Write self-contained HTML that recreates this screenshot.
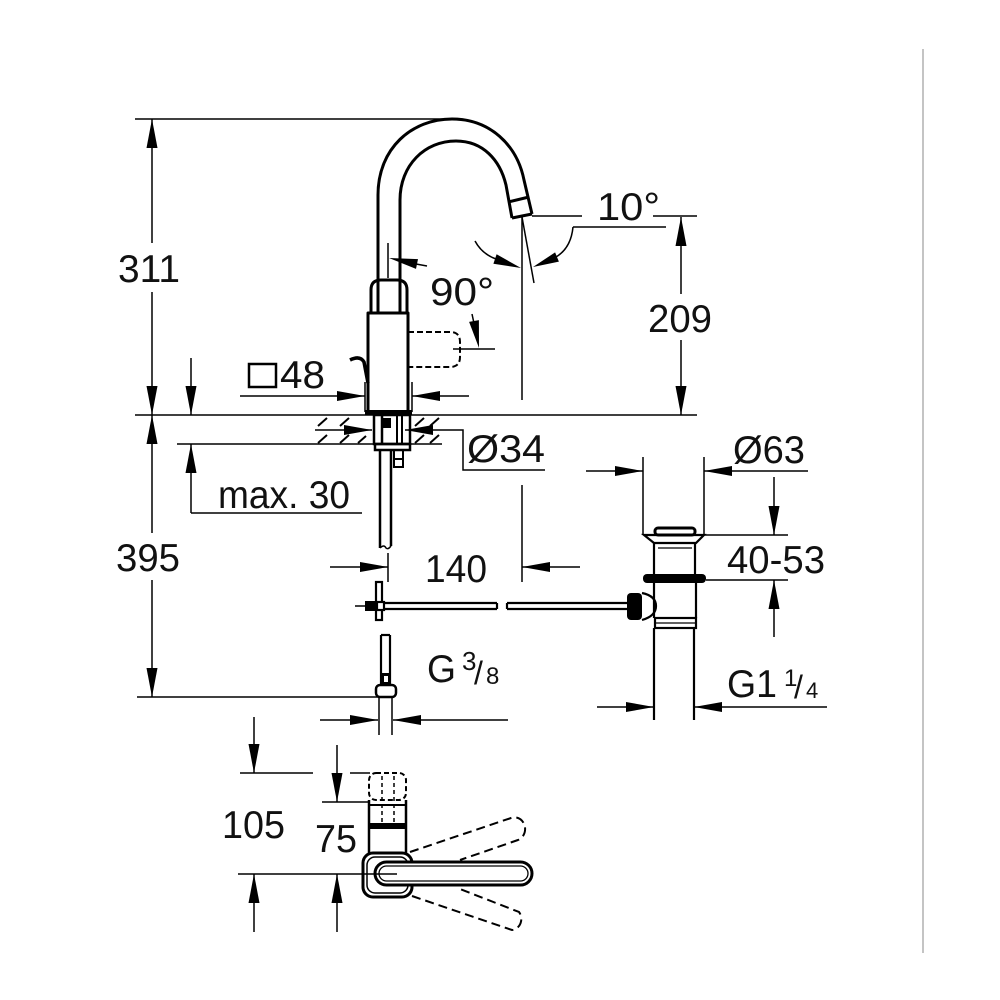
<!DOCTYPE html>
<html><head><meta charset="utf-8"><style>
html,body{margin:0;padding:0;background:#fff;}
svg{display:block;}
text{font-family:"Liberation Sans",Arial,sans-serif;fill:#111;}
</style></head><body>
<svg width="1000" height="1000" viewBox="0 0 1000 1000" xmlns="http://www.w3.org/2000/svg">
<rect width="1000" height="1000" fill="#fff"/>
<line x1="923" y1="49" x2="923" y2="953" stroke="#c4c4c4" stroke-width="2"/>

<g stroke="#000" stroke-width="1.5" fill="none">
  <!-- main horizontal reference lines -->
  <line x1="135" y1="119" x2="453" y2="119"/>
  <line x1="135" y1="415" x2="697" y2="415"/>
  <line x1="177" y1="444" x2="442" y2="444"/>
  <line x1="137" y1="697" x2="380" y2="697"/>
  <!-- 311 / 395 -->
  <line x1="152" y1="119" x2="152" y2="243"/>
  <line x1="152" y1="292" x2="152" y2="415"/>
  <line x1="152" y1="415" x2="152" y2="533"/>
  <line x1="152" y1="580" x2="152" y2="697"/>
  <!-- max 30 -->
  <line x1="191" y1="358" x2="191" y2="415"/>
  <line x1="191" y1="444" x2="191" y2="513"/>
  <line x1="191" y1="513" x2="362" y2="513"/>
  <!-- 48 -->
  <line x1="240" y1="396" x2="365" y2="396"/>
  <line x1="412" y1="396" x2="469" y2="396"/>
  <line x1="365" y1="382" x2="365" y2="412"/>
  <line x1="412" y1="382" x2="412" y2="412"/>
  <!-- Ø34 -->
  <line x1="315" y1="430" x2="372" y2="430"/>
  <polyline points="405,430 463,430 463,470 545,470"/>
  <!-- angle 10 / 209 -->
  <line x1="522" y1="215" x2="522" y2="400"/>
  <line x1="522" y1="217" x2="534" y2="283"/>
  <line x1="532" y1="216" x2="582" y2="216"/>
  <line x1="653" y1="216" x2="697" y2="216"/>
  <line x1="573" y1="227" x2="666" y2="227"/>
  <path d="M573,227 Q571,248 556,257"/>
  <path d="M475,241 Q482,254 496,259"/>
  <line x1="681" y1="217" x2="681" y2="294"/>
  <line x1="681" y1="340" x2="681" y2="415"/>
  <!-- 90 -->
  <line x1="388" y1="243" x2="388" y2="278"/>
  <line x1="416" y1="264" x2="427" y2="266"/>
  <line x1="472" y1="314" x2="475" y2="328"/>
  <line x1="453" y1="349" x2="495" y2="349"/>
  <!-- 140 -->
  <line x1="330" y1="567" x2="388" y2="567"/>
  <line x1="388" y1="553" x2="388" y2="582"/>
  <line x1="522" y1="485" x2="522" y2="582"/>
  <line x1="522" y1="567" x2="580" y2="567"/>
  <!-- G3/8 -->
  <line x1="320" y1="720" x2="378" y2="720"/>
  <line x1="393" y1="720" x2="508" y2="720"/>
  <!-- Ø63 -->
  <line x1="643" y1="457" x2="643" y2="535"/>
  <line x1="704" y1="457" x2="704" y2="535"/>
  <line x1="586" y1="471" x2="643" y2="471"/>
  <line x1="704" y1="471" x2="808" y2="471"/>
  <!-- 40-53 -->
  <line x1="704" y1="535" x2="788" y2="535"/>
  <line x1="706" y1="580" x2="788" y2="580"/>
  <line x1="774" y1="477" x2="774" y2="535"/>
  <line x1="774" y1="580" x2="774" y2="637"/>
  <!-- G1 1/4 -->
  <line x1="597" y1="707" x2="654" y2="707"/>
  <line x1="694" y1="707" x2="827" y2="707"/>
  <!-- bottom view dims -->
  <line x1="254" y1="717" x2="254" y2="773"/>
  <line x1="240" y1="773" x2="313" y2="773"/>
  <line x1="350" y1="773" x2="370" y2="773"/>
  <line x1="337" y1="745" x2="337" y2="802"/>
  <line x1="322" y1="802" x2="368" y2="802"/>
  <line x1="254" y1="874" x2="254" y2="932"/>
  <line x1="337" y1="874" x2="337" y2="932"/>
</g>

<!-- arrowheads -->
<g fill="#000" stroke="none">
  <polygon points="152,119 146.5,148 157.5,148"/>
  <polygon points="152,415 146.5,386 157.5,386"/>
  <polygon points="152,415 146.5,444 157.5,444"/>
  <polygon points="152,697 146.5,668 157.5,668"/>
  <polygon points="191,415 185.5,386 196.5,386"/>
  <polygon points="191,444 185.5,473 196.5,473"/>
  <polygon points="365,396 337,391 337,401"/>
  <polygon points="412,396 440,391 440,401"/>
  <polygon points="372,430 344,425 344,435"/>
  <polygon points="405,430 433,425 433,435"/>
  <polygon points="521,268 493.4,263.7 496.6,254.3"/>
  <polygon points="533,267 558.9,261.6 555.1,252.4"/>
  <polygon points="681,217 675.5,246 686.5,246"/>
  <polygon points="681,415 675.5,386 686.5,386"/>
  <polygon points="389,258 416,268.9 418,259.1"/>
  <polygon points="479,348 478.9,320.1 469.1,321.9"/>
  <polygon points="388,567 360,562 360,572"/>
  <polygon points="522,567 550,562 550,572"/>
  <polygon points="378,720 350,715 350,725"/>
  <polygon points="393,720 421,715 421,725"/>
  <polygon points="643,471 615,466 615,476"/>
  <polygon points="704,471 732,466 732,476"/>
  <polygon points="774,535 768.5,506 779.5,506"/>
  <polygon points="774,580 768.5,609 779.5,609"/>
  <polygon points="654,707 626,702 626,712"/>
  <polygon points="694,707 722,702 722,712"/>
  <polygon points="254,773 248.5,744 259.5,744"/>
  <polygon points="337,802 331.5,773 342.5,773"/>
  <polygon points="254,874 248.5,903 259.5,903"/>
  <polygon points="337,874 331.5,903 342.5,903"/>
</g>

<!-- faucet body -->
<g stroke="#000" stroke-width="3" fill="none" stroke-linejoin="round">
  <path d="M378,313 L378,195 C378,148 412,119 452,119 C490,119 517,145 524,180 L532,214"/>
  <path d="M400,313 L400,200 C400,165 425,141 456,141 C483,141 500,160 506,185 L512,218"/>
  <line x1="512" y1="218" x2="532" y2="214"/>
  <line x1="508" y1="202" x2="529" y2="197"/>
  <path d="M371,313 L371,290 Q371,280 381,280 L397,280 Q407,280 407,290 L407,313"/>
  <rect x="368" y="313" width="40" height="99"/>
  <path d="M350,360 Q360,355 364,362 L368,383" stroke-width="3.5"/>
</g>
<rect x="365" y="410" width="47" height="5" fill="#000"/>
<!-- dashed lever side -->
<path d="M408,332 L450,332 Q460,332 460,342 L460,357 Q460,367 450,367 L408,367" fill="none" stroke="#000" stroke-width="2" stroke-dasharray="6,3"/>

<!-- under deck -->
<g stroke="#000" stroke-width="2" fill="none">
  <line x1="318" y1="426" x2="327" y2="418"/>
  <line x1="340" y1="426" x2="349" y2="418"/>
  <line x1="318" y1="443" x2="327" y2="435"/>
  <line x1="340" y1="443" x2="349" y2="435"/>
  <line x1="358" y1="443" x2="366" y2="436"/>
  <line x1="415" y1="426" x2="424" y2="418"/>
  <line x1="430" y1="426" x2="439" y2="418"/>
  <line x1="415" y1="443" x2="424" y2="435"/>
  <line x1="430" y1="443" x2="439" y2="435"/>
  <rect x="374" y="415" width="36" height="29" stroke-width="2.5"/>
  <line x1="382" y1="415" x2="382" y2="444" stroke-width="2.5"/>
  <line x1="397" y1="415" x2="397" y2="444"/>
  <line x1="402" y1="415" x2="402" y2="444"/>
  <rect x="375" y="444" width="35" height="6" stroke-width="2.5"/>
  <line x1="380" y1="450" x2="380" y2="548" stroke-width="2.5"/>
  <line x1="391" y1="450" x2="391" y2="546" stroke-width="2.5"/>
  <path d="M380,548 Q384,544 386,548 Q388,550 391,546" stroke-width="1.5"/>
  <rect x="394" y="450" width="9" height="17" stroke-width="2"/>
  <line x1="394" y1="459" x2="403" y2="459"/>
</g>
<rect x="383" y="418" width="8" height="10" fill="#000"/>

<!-- cross assembly & connection pipe -->
<g stroke="#000" stroke-width="2.2" fill="none">
  <rect x="376" y="582" width="6" height="38"/>
  <line x1="382" y1="603" x2="497" y2="603"/>
  <line x1="382" y1="609" x2="497" y2="609"/>
  <line x1="497" y1="603" x2="497" y2="609"/>
  <line x1="507" y1="603" x2="628" y2="603"/>
  <line x1="507" y1="609" x2="628" y2="609"/>
  <line x1="507" y1="603" x2="507" y2="609"/>
  <line x1="355" y1="606" x2="367" y2="606" stroke-width="1.5"/>
  <rect x="377" y="602" width="7" height="8" fill="#fff"/>
  <!-- lower pipe -->
  <line x1="381" y1="635" x2="381" y2="685"/>
  <line x1="390" y1="635" x2="390" y2="685"/>
  <line x1="381" y1="635" x2="390" y2="635"/>
  <rect x="376" y="685" width="20" height="12" rx="4" stroke-width="2.5"/>
  <line x1="379" y1="697" x2="379" y2="735" stroke-width="1.5"/>
  <line x1="392" y1="697" x2="392" y2="735" stroke-width="1.5"/>
</g>
<rect x="365" y="601" width="11" height="10" fill="#000"/>
<rect x="382" y="673" width="8" height="12" fill="#000"/>
<rect x="384" y="676" width="4" height="6" fill="#fff"/>

<!-- drain -->
<g stroke="#000" stroke-width="2.2" fill="none">
  <rect x="655" y="528" width="40" height="7" rx="3" stroke-width="3"/>
  <path d="M644,535 L704,535 L696,543 L654,543 Z"/>
  <line x1="654" y1="543" x2="654" y2="576"/>
  <line x1="695" y1="543" x2="695" y2="576"/>
  <line x1="658" y1="548" x2="692" y2="548" stroke-width="1.2"/>
  <line x1="654" y1="583" x2="654" y2="618"/>
  <line x1="696" y1="583" x2="696" y2="618"/>
  <path d="M642,593 Q656,596 656,606 Q656,616 642,620"/>
  <rect x="655" y="618" width="41" height="10"/>
  <line x1="655" y1="623" x2="696" y2="623" stroke-width="1.2"/>
  <line x1="654" y1="628" x2="654" y2="720"/>
  <line x1="694" y1="628" x2="694" y2="720"/>
</g>
<rect x="643" y="574" width="63" height="9" rx="4" fill="#000"/>
<rect x="627" y="593" width="15" height="27" rx="4" fill="#000"/>

<!-- bottom view handle -->
<g stroke="#000" fill="none">
  <rect x="369" y="773" width="37" height="27" rx="7" stroke-width="2" stroke-dasharray="5,3"/>
  <line x1="382" y1="776" x2="382" y2="822" stroke-width="1.5" stroke-dasharray="4,3"/>
  <line x1="394" y1="776" x2="394" y2="822" stroke-width="1.5" stroke-dasharray="4,3"/>
  <line x1="369" y1="800" x2="369" y2="855" stroke-width="2.5"/>
  <line x1="406" y1="800" x2="406" y2="855" stroke-width="2.5"/>
  <line x1="369" y1="805" x2="406" y2="805" stroke-width="2"/>
  <path d="M410,852 L511,818 A10,11 0 0 1 518,840 L460,860" stroke-width="2" stroke-dasharray="9,5"/>
  <path d="M412,896 L512,930 A10,11 0 0 0 519,912 L460,889" stroke-width="2" stroke-dasharray="9,5"/>
  <rect x="363" y="853" width="49" height="44" rx="10" stroke-width="3" fill="#fff"/>
  <rect x="367" y="857" width="41" height="36" rx="8" stroke-width="1.5"/>
  <rect x="375" y="862" width="157" height="23" rx="11.5" stroke-width="3" fill="#fff"/>
  <rect x="379" y="866" width="149" height="15" rx="7.5" stroke-width="1.3"/>
  <line x1="238" y1="874" x2="397" y2="874" stroke-width="1.5"/>
</g>
<rect x="369" y="823" width="37" height="6" fill="#000"/>

<!-- labels -->
<g font-size="39">
  <text x="118" y="282" textLength="62" lengthAdjust="spacingAndGlyphs">311</text>
  <text x="116" y="571" textLength="64" lengthAdjust="spacingAndGlyphs">395</text>
  <text x="648" y="332" textLength="64" lengthAdjust="spacingAndGlyphs">209</text>
  <text x="597" y="220" textLength="63" lengthAdjust="spacingAndGlyphs">10°</text>
  <text x="430" y="305" textLength="64" lengthAdjust="spacingAndGlyphs">90°</text>
  <text x="280" y="388" textLength="45" lengthAdjust="spacingAndGlyphs">48</text>
  <text x="218" y="508" textLength="132" lengthAdjust="spacingAndGlyphs">max. 30</text>
  <text x="467" y="462" textLength="78" lengthAdjust="spacingAndGlyphs">Ø34</text>
  <text x="425" y="582" textLength="62" lengthAdjust="spacingAndGlyphs">140</text>
  <text x="427" y="682" textLength="29" lengthAdjust="spacingAndGlyphs">G</text>
  <text x="733" y="463" textLength="72" lengthAdjust="spacingAndGlyphs">Ø63</text>
  <text x="727" y="573" textLength="98" lengthAdjust="spacingAndGlyphs">40-53</text>
  <text x="727" y="697" textLength="50" lengthAdjust="spacingAndGlyphs">G1</text>
  <text x="222" y="838" textLength="63" lengthAdjust="spacingAndGlyphs">105</text>
  <text x="315" y="852" textLength="42" lengthAdjust="spacingAndGlyphs">75</text>
</g>
<text x="462" y="670" font-size="26">3</text>
<text x="474" y="684" font-size="32">/</text>
<text x="486" y="684" font-size="24">8</text>
<text x="784" y="686" font-size="24">1</text>
<text x="794" y="698" font-size="32">/</text>
<text x="806" y="698" font-size="22">4</text>
<rect x="249" y="364" width="27" height="23" fill="none" stroke="#000" stroke-width="2.5"/>
</svg>
</body></html>
